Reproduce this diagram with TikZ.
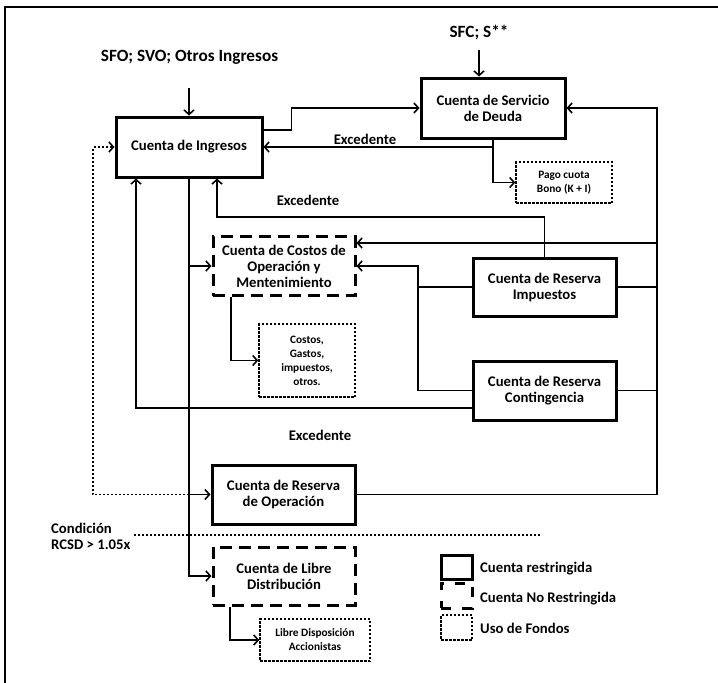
\documentclass[tikz,border=0pt]{standalone}
\usepackage{fontspec}
\setmainfont{Carlito}
\usetikzlibrary{arrows.meta}
\newcommand\acctfont{\fontsize{14.7}{16}\selectfont\bfseries}
\newcommand\headfont{\fontsize{17.2}{20}\selectfont\bfseries}
\newcommand\fundsfont{\fontsize{11.3}{14}\selectfont\bfseries}
\begin{document}
\begin{tikzpicture}[x=1pt,y=-1pt,
  restricted/.style={draw, line width=3pt, inner sep=0pt, align=center, font=\acctfont,
    minimum width=143pt, minimum height=59pt},
  free/.style={draw, line width=3pt, dash pattern=on 12pt off 7pt, inner sep=0pt, align=center,
    font=\acctfont, minimum width=142pt, minimum height=59pt},
  funds/.style={draw, line width=1.4pt, dash pattern=on 2.5pt off 1.5pt, inner sep=0pt,
    align=center, font=\fundsfont},
  conn/.style={line width=1.6pt, -{Straight Barb[length=4.5pt,width=10pt]}},
  link/.style={line width=1.6pt},
  dotconn/.style={line width=1.6pt, dash pattern=on 2pt off 2pt, -{Straight Barb[length=4.5pt,width=10pt]}},
  divider/.style={line width=1.6pt, dash pattern=on 2pt off 2pt},
  lbl/.style={inner sep=0pt, font=\acctfont},
  head/.style={inner sep=0pt, font=\headfont}]
\useasboundingbox (0,0) rectangle (718,683);

% page frame
\draw[line width=1.5pt] (5,683) -- (5,7) -- (718,7);

% accounts
\node[restricted, minimum width=146pt, minimum height=60pt] (ingresos) at (189,147) {Cuenta de Ingresos};
\node[restricted, minimum width=144pt, minimum height=60pt] (deuda) at (493,108) {Cuenta de Servicio\\de Deuda};
\node[funds, minimum width=96pt, minimum height=41pt] (pago) at (564,182.5) {Pago cuota\\Bono (K + I)};
\node[free] (costos) at (284,266) {Cuenta de Costos de\\Operación y\\Mentenimiento};
\node[restricted, minimum height=58pt] (impuestos) at (544.5,287) {Cuenta de Reserva\\Impuestos};
\node[funds, minimum width=96pt, minimum height=73pt] (gastos) at (307,360.5) {Costos,\\Gastos,\\impuestos,\\otros.};
\node[restricted] (contingencia) at (544.5,390.5) {Cuenta de Reserva\\Contingencia};
\node[restricted] (operacion) at (283.5,494.5) {Cuenta de Reserva\\de Operación};
\node[free, minimum height=58pt] (libre) at (284,576) {Cuenta de Libre\\Distribución};
\node[funds, minimum width=110pt, minimum height=42pt] (libredisp) at (315,640) {Libre Disposición\\Accionistas};

% inflow labels
\node[head] (fuentes) at (189.5,57) {SFO; SVO; Otros Ingresos};
\node[head] (sfc) at (479,33) {SFC; S**};
\coordinate (fuentesIn) at (189,88);
\coordinate (sfcIn) at (479,50);
\draw[conn] (fuentesIn) -- (fuentesIn |- ingresos.north);
\draw[conn] (sfcIn) -- (sfcIn |- deuda.north);

% ingresos -> servicio de deuda
\draw[conn] ([yshift=17pt]ingresos.east) -- ++(28,0) |- (deuda.west);

% servicio de deuda -> pago / excedente
\draw[conn] (deuda.south) |- (pago.west);
\draw[conn] (deuda.south |- ingresos.east) -- (ingresos.east);
\node[lbl] (exc1) at (365,139) {Excedente};

% right-hand bus of the reserve accounts
\coordinate (busTop) at (657,108);
\draw[conn] (operacion.east) -| (busTop) -- (deuda.east);
\draw[link] (impuestos.east) -- (busTop |- impuestos.east);
\draw[link] (contingencia.east) -- (busTop |- contingencia.east);
\draw[conn] (busTop |- 0,243) -- ([yshift=23pt]costos.east);

% reserves -> costos de operacion
\coordinate (jx) at (418,287);
\draw[conn] (contingencia.west) -| (jx) |- (costos.east);
\draw[link] (impuestos.west) -- (jx);

% excedente from impuestos back to ingresos
\coordinate (e2) at (217,217);
\draw[conn] (impuestos.north) |- (e2) -- (e2 |- ingresos.south);
\node[lbl] (exc2) at (308,200) {Excedente};

% excedente from contingencia back to ingresos
\draw[conn] ([yshift=-17.5pt]contingencia.west) -| ([xshift=-53pt]ingresos.south);
\node[lbl] (exc3) at (320,435) {Excedente};

% main distribution trunk
\draw[conn] (ingresos.south) |- (libre.west);
\draw[conn] (ingresos.south |- costos.west) -- (costos.west);
\draw[conn] (ingresos.south |- operacion.west) -- (operacion.west);

% uses of funds
\draw[conn] ([xshift=-53pt]costos.south) |- (gastos.west);
\draw[conn] ([xshift=-54pt]libre.south) |- (libredisp.west);

% operating reserve return loop
\coordinate (dx) at (93,300);
\draw[dotconn] (ingresos.south |- operacion.west) -| (dx) |- (ingresos.west);

% distribution condition
\node[lbl, align=left, anchor=west] (cond) at (51,536) {Condición\\RCSD > 1.05x};
\coordinate (divEnd) at (541,535);
\draw[divider] (cond.east |- divEnd) ++(3,0) -- (divEnd);

% legend
\node[draw, line width=3pt, minimum width=31pt, minimum height=24pt, inner sep=0pt] (legR) at (456.5,567) {};
\node[draw, line width=3pt, dash pattern=on 10pt off 11pt, minimum width=31pt, minimum height=25pt, inner sep=0pt] (legN) at (456.5,595.5) {};
\node[draw, line width=1.4pt, dash pattern=on 2.5pt off 1.5pt, minimum width=31pt, minimum height=25pt, inner sep=0pt] (legU) at (456.5,627.5) {};
\node[lbl, anchor=west] (legRt) at (480,569) {Cuenta restringida};
\node[lbl, anchor=west] (legNt) at (480,599) {Cuenta No Restringida};
\node[lbl, anchor=west] (legUt) at (480,628) {Uso de Fondos};
\end{tikzpicture}
\end{document}
